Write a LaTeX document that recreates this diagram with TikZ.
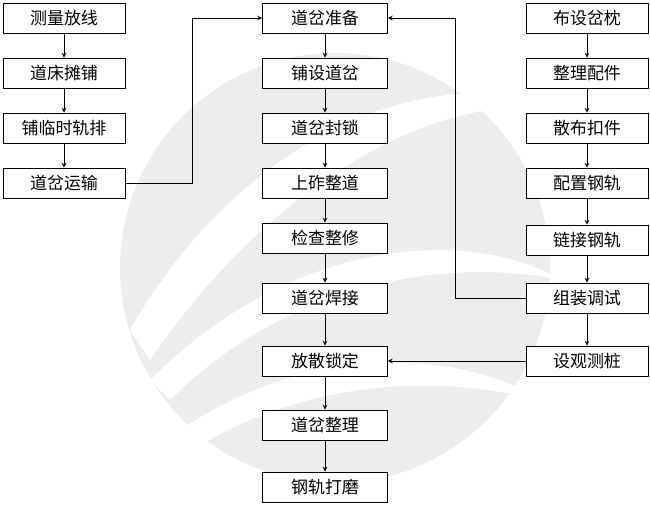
\documentclass[tikz,border=0pt]{standalone}
\usepackage{fontspec}
\newfontfamily\cjk{Noto Sans CJK SC}
\begin{document}
\begin{tikzpicture}[x=0.03cm,y=-0.03cm,
  bx/.style={draw,thick,fill=white,minimum width=3.66cm,minimum height=0.9cm,font=\cjk\fontsize{14.5}{16}\selectfont,inner sep=0pt},
  mx/.style={bx,minimum width=3.75cm},
  ar/.style={->,>=stealth,thick}]
\useasboundingbox (0,0) rectangle (650,505);
% watermark
\fill[gray!14] (335,268) circle (215);
\fill[white] (130,330) .. controls (250,120) and (450,60) .. (560,110) .. controls (450,90) and (280,170) .. (150,360) -- cycle;
\fill[white] (150,380) .. controls (300,230) and (480,230) .. (560,280) .. controls (470,260) and (300,270) .. (170,400) -- cycle;
\fill[white] (180,430) .. controls (330,330) and (480,360) .. (540,400) .. controls (460,380) and (330,370) .. (200,445) -- cycle;
% left
\node[bx] (l1) at (64,18) {测量放线};
\node[bx] (l2) at (64,73) {道床摊铺};
\node[bx] (l3) at (64,128) {铺临时轨排};
\node[bx] (l4) at (64,183) {道岔运输};
% middle
\node[mx] (m1) at (325,18) {道岔准备};
\node[mx] (m2) at (325,73) {铺设道岔};
\node[mx] (m3) at (325,128) {道岔封锁};
\node[mx] (m4) at (325,183) {上砟整道};
\node[mx] (m5) at (325,238) {检查整修};
\node[mx] (m6) at (325,298) {道岔焊接};
\node[mx] (m7) at (325,361) {放散锁定};
\node[mx] (m8) at (325,425) {道岔整理};
\node[mx] (m9) at (325,487) {钢轨打磨};
% right
\node[bx] (r1) at (587,18) {布设岔枕};
\node[bx] (r2) at (587,73) {整理配件};
\node[bx] (r3) at (587,128) {散布扣件};
\node[bx] (r4) at (587,183) {配置钢轨};
\node[bx] (r5) at (587,240) {链接钢轨};
\node[bx] (r6) at (587,298) {组装调试};
\node[bx] (r7) at (587,361) {设观测桩};
\foreach \a/\b in {l1/l2,l2/l3,l3/l4,m1/m2,m2/m3,m3/m4,m4/m5,m5/m6,m6/m7,m7/m8,m8/m9,r1/r2,r2/r3,r3/r4,r4/r5,r5/r6,r6/r7}
  \draw[ar] (\a) -- (\b);
\draw[ar] (l4.east) -- (192,183) -- (192,18) -- (m1.west);
\draw[ar] (r6.west) -- (455,298) -- (455,18) -- (m1.east);
\draw[ar] (r7) -- (m7);
\end{tikzpicture}
\end{document}
